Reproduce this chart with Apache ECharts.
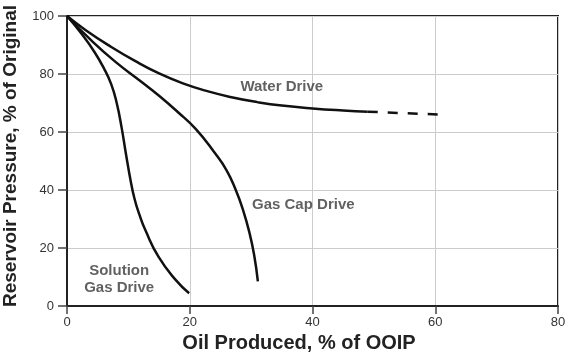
<!DOCTYPE html>
<html>
<head>
<meta charset="utf-8">
<script src="https://cdn.jsdelivr.net/npm/echarts@6/dist/echarts.min.js"></script>
<style>html,body{margin:0;padding:0;background:#fff}#c{width:567px;height:354px}</style>
</head>
<body>
<div id="c"></div>
<script>
const xTicks = [0, 20, 40, 60, 80];
const yTicks = [0, 20, 40, 60, 80, 100];
const waterDrive = [[0,100],[3,95.2],[7,89.6],[11,84.6],[15,80.2],[19,76.7],[23,74],[27,71.9],[31,70.3],[35,69.1],[40,68.1],[45,67.4],[49,67]];
const waterDriveExtrap = [[49,67],[61,66]];
const gasCapDrive = [[0,100],[4,91.5],[8,84],[12,77.5],[15,72.5],[18,67],[21,61],[24,53],[26,46.8],[27.5,40],[28.7,33],[29.7,25.5],[30.5,17.5],[31.1,8.5]];
const solutionGasDrive = [[0,100],[2.5,93.5],[4.5,87.5],[6,82],[7.2,76.5],[8.1,70],[8.9,61.5],[9.6,52.5],[10.3,44],[11,37],[11.8,31.5],[12.8,26],[14.9,17],[17.7,9],[19.9,4.4]];
const curveLabels = [
  {name: 'Water Drive', value: [35, 75.5]},
  {name: 'Gas Cap Drive', value: [38.5, 35]},
  {name: 'Solution\nGas Drive', value: [8.5, 9.3]}
];
const xTitle = 'Oil Produced, % of OOIP';
const yTitle = 'Reservoir Pressure, % of Original';

const chart = echarts.init(document.getElementById('c'), null, {renderer: 'canvas'});
const lineStyle = {color: '#111', width: 2.5};
chart.setOption({
  animation: false,
  grid: {left: 67, right: 9, top: 16, bottom: 48, show: true, borderColor: '#222', borderWidth: 2, containLabel: false, outerBoundsMode: 'none'},
  xAxis: {
    type: 'value', min: xTicks[0], max: xTicks[xTicks.length-1], interval: 20,
    name: xTitle, nameLocation: 'middle', nameGap: 27,
    nameTextStyle: {fontFamily: 'Liberation Sans', fontWeight: 'bold', fontSize: 20, color: '#222', padding: [0, 27, 0, 0]},
    axisLine: {lineStyle: {color: '#222', width: 2}},
    axisTick: {show: true, length: 8, lineStyle: {color: '#444', width: 1.5}},
    axisLabel: {fontFamily: 'Liberation Sans', fontSize: 13, color: '#333', margin: 10},
    splitLine: {show: true, lineStyle: {color: '#ccc', width: 1}}
  },
  yAxis: {
    type: 'value', min: yTicks[0], max: yTicks[yTicks.length-1], interval: 20,
    name: yTitle, nameLocation: 'middle', nameGap: 47,
    nameTextStyle: {fontFamily: 'Liberation Sans', fontWeight: 'bold', fontSize: 19, color: '#222', padding: [0, 0, 0, 10]},
    axisLine: {lineStyle: {color: '#222', width: 2}},
    axisTick: {show: true, length: 9, lineStyle: {color: '#444', width: 1.5}},
    axisLabel: {fontFamily: 'Liberation Sans', fontSize: 13, color: '#333', margin: 13},
    splitLine: {show: true, lineStyle: {color: '#ccc', width: 1}}
  },
  series: [
    {type: 'line', data: waterDrive, smooth: 0.5, showSymbol: false, lineStyle: lineStyle},
    {type: 'line', data: waterDriveExtrap, showSymbol: false, lineStyle: {color: '#111', width: 2.5, type: [10, 10]}},
    {type: 'line', data: gasCapDrive, smooth: 0.5, showSymbol: false, lineStyle: lineStyle},
    {type: 'line', data: solutionGasDrive, smooth: 0.5, showSymbol: false, lineStyle: lineStyle},
    {type: 'scatter', data: curveLabels, symbolSize: 0, silent: true,
      label: {show: true, position: 'inside', formatter: p => p.name,
        fontFamily: 'Liberation Sans', fontWeight: 'bold', fontSize: 15, color: '#3a3a3a', lineHeight: 17, align: 'center'}}
  ]
});
</script>
</body>
</html>
